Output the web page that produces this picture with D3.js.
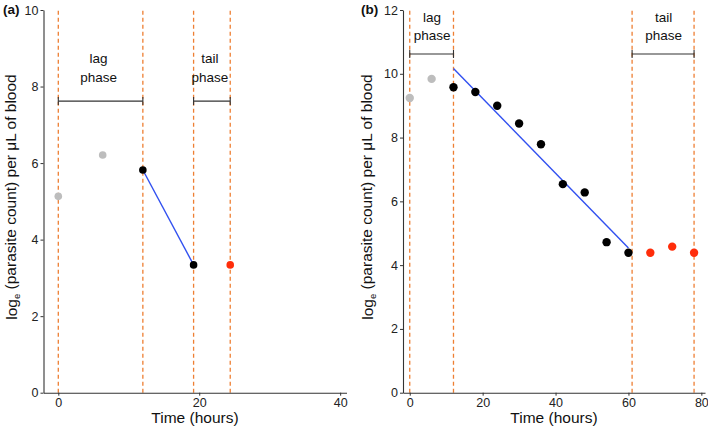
<!DOCTYPE html>
<html><head><meta charset="utf-8">
<script src="https://cdn.jsdelivr.net/npm/d3@7"></script>
<style>body{margin:0;background:#fff}svg{display:block;font-family:"Liberation Sans",Arial,sans-serif}</style>
</head><body>
<svg id="c" width="708" height="428"></svg>
<script>
// ---- data ----
const aGray = [[0,5.13],[6.3,6.21]];
const aBlack = [[12,5.82],[19.2,3.34]];
const aRed = [[24.4,3.34]];
const aVlines = [0,12,19.2,24.4];
const aLag = [0,12], aTail = [19.2,24.4], aBracketY = 7.62;
const aLabelY = [8.74, 8.25];
const aXTicks = [0,20,40], aYTicks = [0,2,4,6,8,10];

const bGray = [[0,9.24],[6,9.84]];
const bBlack = [[12,9.58],[18,9.43],[24,9.0],[30,8.44],[36,7.79],[42,6.54],[48,6.28],[54,4.72],[60,4.39]];
const bRed = [[66,4.39],[72,4.58],[78,4.39]];
const bVlines = [0,12,61,78];
const bLag = [0,12], bTail = [61,78], bBracketY = 10.62;
const bLabelY = [11.77, 11.21];
const bXTicks = [0,20,40,60,80], bYTicks = [0,2,4,6,8,10,12];

const svg = d3.select('#c');
const C = {orange:'#EE7F33', gray:'#BDBDBD', black:'#000', red:'#FF2D0A', blue:'#3150F0', axis:'#333'};

function fit(pts){
  const mx=d3.mean(pts,d=>d[0]), my=d3.mean(pts,d=>d[1]);
  const s=d3.sum(pts,d=>(d[0]-mx)*(d[1]-my))/d3.sum(pts,d=>(d[0]-mx)**2);
  return x=>my+s*(x-mx);
}

function panel(o){
  const g = svg.append('g');
  const x = d3.scaleLinear().domain(o.xd).range(o.xr);
  const y = d3.scaleLinear().domain(o.yd).range([392.7,10]);
  g.selectAll('.v').data(o.vl).enter().append('line')
    .attr('x1',d=>x(d)).attr('x2',d=>x(d)).attr('y1',y(o.yd[0])).attr('y2',y(o.yd[1]))
    .attr('stroke',C.orange).attr('stroke-width',1.3).attr('stroke-dasharray','4,3');
  const xa = g.append('g').attr('transform',`translate(0,${y(0)})`)
    .call(d3.axisBottom(x).tickValues(o.xt).tickSize(3).tickPadding(2).tickSizeOuter(0));
  const ya = g.append('g').attr('transform',`translate(${o.xr[0]},0)`)
    .call(d3.axisLeft(y).tickValues(o.yt).tickSize(3).tickPadding(2).tickSizeOuter(0));
  [xa,ya].forEach(a=>{
    a.select('.domain').attr('stroke',C.axis).attr('stroke-width',1.1);
    a.selectAll('.tick line').attr('stroke',C.axis);
    a.selectAll('.tick text').attr('fill','#222').style('font-size','12.5px').style('font-family','"Liberation Sans",Arial,sans-serif');
  });
  [o.lag,o.tail].forEach(b=>{
    const yy=y(o.by);
    g.append('line').attr('x1',x(b[0])).attr('x2',x(b[1])).attr('y1',yy).attr('y2',yy).attr('stroke',C.axis).attr('stroke-width',1.1);
    b.forEach(v=>g.append('line').attr('x1',x(v)).attr('x2',x(v)).attr('y1',yy-4).attr('y2',yy+4).attr('stroke',C.axis).attr('stroke-width',1.1));
  });
  const lbl=(b,t1)=>{
    const cx=x((b[0]+b[1])/2)+o.lblDx;
    [t1,'phase'].forEach((t,i)=>g.append('text').attr('x',cx).attr('y',y(o.ly[i])).attr('dy','0.35em')
      .attr('text-anchor','middle').style('font-size','13.5px').attr('fill','#111').text(t));
  };
  lbl(o.lag,'lag'); lbl(o.tail,'tail');
  const f = fit(o.black);
  const x0=d3.min(o.black,d=>d[0]), x1=d3.max(o.black,d=>d[0]);
  g.append('line').attr('x1',x(x0)).attr('x2',x(x1)).attr('y1',y(f(x0))).attr('y2',y(f(x1)))
    .attr('stroke',C.blue).attr('stroke-width',1.4);
  [[o.gray,C.gray],[o.black,C.black],[o.red,C.red]].forEach(([pts,col])=>{
    g.selectAll(null).data(pts).enter().append('circle')
      .attr('cx',d=>x(d[0])).attr('cy',d=>y(d[1])).attr('r',o.r).attr('fill',col);
  });
  g.append('text').attr('x',(o.xr[0]+o.xr[1])/2).attr('y',418).attr('dy','0.35em').attr('text-anchor','middle')
    .style('font-size','15.5px').attr('fill','#111').text('Time (hours)');
  const yt = g.append('text').attr('transform',`translate(${o.ytx},197) rotate(-90)`)
    .attr('text-anchor','middle').attr('dy','0.35em').style('font-size','15.5px').attr('fill','#111');
  yt.append('tspan').text('log');
  yt.append('tspan').attr('dy','0.3em').style('font-size','9.5px').text('e');
  yt.append('tspan').attr('dy','-0.3em').text(' (parasite count) per μL of blood');
  g.append('text').attr('x',o.tagx).attr('y',9).attr('dy','0.35em').style('font-size','13.5px').style('font-weight','bold')
    .attr('fill','#111').text(o.tag);
}

panel({xd:[-2.1,40.9],xr:[43.5,346.5],yd:[0,10],xt:aXTicks,yt:aYTicks,vl:aVlines,
  gray:aGray,black:aBlack,red:aRed,lag:aLag,tail:aTail,by:aBracketY,ly:aLabelY,lblDx:-2,r:3.8,ytx:12,tag:'(a)',tagx:3});
panel({xd:[-1.85,81],xr:[403,705],yd:[0,12],xt:bXTicks,yt:bYTicks,vl:bVlines,
  gray:bGray,black:bBlack,red:bRed,lag:bLag,tail:bTail,by:bBracketY,ly:bLabelY,lblDx:0.5,r:4.2,ytx:368,tag:'(b)',tagx:361});
</script>
</body></html>
